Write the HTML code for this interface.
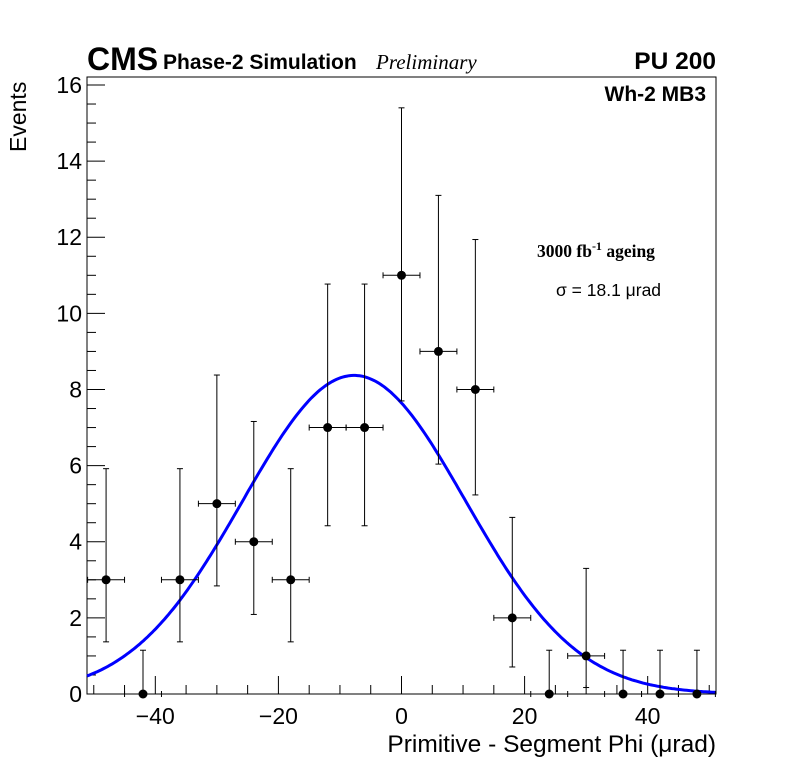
<!DOCTYPE html>
<html><head><meta charset="utf-8"><style>
body{margin:0;background:#fff;}
svg{display:block;font-family:"Liberation Sans",sans-serif;}
</style></head><body>
<svg id="c" width="796" height="772">
<g id="axes"></g><g id="marks"></g>
<text x="87" y="70" font-size="32" font-weight="bold">CMS</text>
<text x="163" y="69" font-size="21" font-weight="bold">Phase-2 Simulation</text>
<text x="376" y="69" font-size="21" font-style="italic" font-family="Liberation Serif,serif">Preliminary</text>
<text x="716" y="69" font-size="24.5" font-weight="bold" text-anchor="end">PU 200</text>
<text x="706" y="101" font-size="21" font-weight="bold" text-anchor="end">Wh-2 MB3</text>
<text x="537" y="257" font-size="17.5" font-weight="bold" font-family="Liberation Serif,serif">3000 fb<tspan dy="-7" font-size="12">-1</tspan><tspan dy="7"> ageing</tspan></text>
<text x="556" y="296" font-size="17.5">σ = 18.1 μrad</text>
<text x="716" y="752" font-size="24.5" text-anchor="end">Primitive - Segment Phi (μrad)</text>
<text transform="translate(26,152) rotate(-90)" font-size="23">Events</text>
</svg>
<script>
const binCenters=[-48,-42,-36,-30,-24,-18,-12,-6,0,6,12,18,24,30,36,42,48];
const counts=[3,0,3,5,4,3,7,7,11,9,8,2,0,1,0,0,0];
const errLow=[1.63,0,1.63,2.16,1.91,1.63,2.58,2.58,3.3,2.96,2.77,1.29,0,0.83,0,0,0];
const errHigh=[2.92,1.15,2.92,3.38,3.16,2.92,3.77,3.77,4.4,4.1,3.94,2.64,1.15,2.3,1.15,1.15,1.15];
const fitAmp=8.37, fitMean=-7.7, fitSigma=18.1;
const xTicks=[-40,-20,0,20,40];
const yTicks=[0,2,4,6,8,10,12,14,16];
const L=87,R=716,T=77,B=694,xmin=-51.1,xmax=51.1,ymin=0,ymax=16.21;
const X=v=>L+(v-xmin)/(xmax-xmin)*(R-L);
const Y=v=>B-(v-ymin)/(ymax-ymin)*(B-T);
const NS='http://www.w3.org/2000/svg';
function mk(p,tag,a){const e=document.createElementNS(NS,tag);for(const k in a)e.setAttribute(k,a[k]);p.appendChild(e);return e;}
const ax=document.getElementById('axes'),mg=document.getElementById('marks');
let f=mk(ax,'rect',{x:L,y:T,width:R-L,height:B-T,fill:'none',stroke:'#000','stroke-width':1});


for(let v=-50;v<=50;v+=5){const big=v%20===0;const t=mk(ax,'line',{x1:X(v),x2:X(v),y1:B,y2:B-(big?18:9),stroke:'#000'});

}
xTicks.forEach(v=>{const t=mk(ax,'text',{x:X(v),y:B+30,'font-size':23,'text-anchor':'middle'});t.textContent=(v<0?'\u2212':'')+Math.abs(v);

});
for(let v=0;v<=16.001;v+=0.5){const big=Math.abs(v%2)<1e-6;const t=mk(ax,'line',{x1:L,x2:L+(big?18:9),y1:Y(v),y2:Y(v),stroke:'#000'});

}
yTicks.forEach(v=>{const t=mk(ax,'text',{x:L-5,y:Y(v)+8,'font-size':23,'text-anchor':'end'});t.textContent=v;

});
let d='';for(let i=0;i<=300;i++){const x=xmin+(xmax-xmin)*i/300;const y=fitAmp*Math.exp(-Math.pow(x-fitMean,2)/(2*fitSigma*fitSigma));d+=(i?'L':'M')+X(x).toFixed(1)+','+Y(y).toFixed(1);}
let fp=mk(mg,'path',{d:d,fill:'none',stroke:'#0000ff','stroke-width':3});


binCenters.forEach((c,i)=>{const g=mk(mg,'g',{});


const y=counts[i],cx=X(c),cy=Y(y);
mk(g,'line',{x1:X(c-3),x2:X(c+3),y1:cy,y2:cy,stroke:'#000'});
mk(g,'line',{x1:X(c-3),x2:X(c-3),y1:cy-3,y2:cy+3,stroke:'#000'});
mk(g,'line',{x1:X(c+3),x2:X(c+3),y1:cy-3,y2:cy+3,stroke:'#000'});
mk(g,'line',{x1:cx,x2:cx,y1:Y(y-errLow[i]),y2:Y(y+errHigh[i]),stroke:'#000'});
mk(g,'line',{x1:cx-3,x2:cx+3,y1:Y(y+errHigh[i]),y2:Y(y+errHigh[i]),stroke:'#000'});
if(errLow[i]>0)mk(g,'line',{x1:cx-3,x2:cx+3,y1:Y(y-errLow[i]),y2:Y(y-errLow[i]),stroke:'#000'});
mk(g,'circle',{cx:cx,cy:cy,r:4.5,fill:'#000'});});
</script>
</body></html>
